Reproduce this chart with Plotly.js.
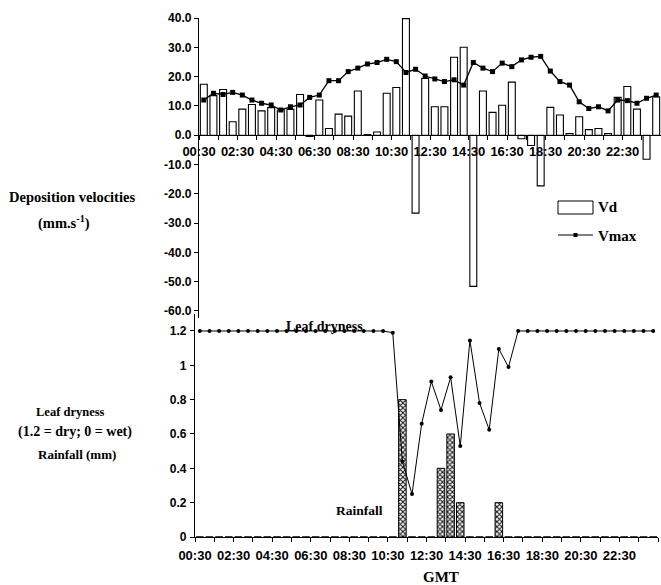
<!DOCTYPE html>
<html>
<head>
<meta charset="utf-8">
<script src="https://cdn.plot.ly/plotly-3.0.1.min.js"></script>
<style>html,body{margin:0;padding:0;background:#fff}#chart{width:661px;height:585px}</style>
</head>
<body>
<div id="chart"></div>
<script>
// ---- data (half-hourly, 48 periods) ----
const times = ["00:30","01:00","01:30","02:00","02:30","03:00","03:30","04:00","04:30","05:00","05:30","06:00",
  "06:30","07:00","07:30","08:00","08:30","09:00","09:30","10:00","10:30","11:00","11:30","12:00",
  "12:30","13:00","13:30","14:00","14:30","15:00","15:30","16:00","16:30","17:00","17:30","18:00",
  "18:30","19:00","19:30","20:00","20:30","21:00","21:30","22:00","22:30","23:00","23:30","24:00"];
const vd = [17.4, 13.5, 15.6, 4.6, 8.9, 10.5, 8.3, 9.4, 8.6, 8.8, 13.9, -0.4,
  12.0, 2.3, 7.2, 6.5, 15.1, 0.2, 1.1, 14.3, 16.3, 39.8, -26.6, 19.4,
  9.7, 9.7, 26.6, 30.0, -51.6, 15.1, 7.8, 10.2, 18.1, -1.2, -3.5, -17.3,
  9.5, 6.9, 0.6, 6.3, 1.9, 2.3, 0.6, 12.9, 16.6, 8.9, -8.2, 13.1];
const vmax = [12.0, 14.3, 13.9, 14.6, 13.7, 12.0, 10.9, 10.3, 8.6, 9.7, 10.3, 12.9,
  13.7, 18.6, 18.6, 21.7, 22.9, 24.3, 24.8, 25.9, 25.1, 21.4, 22.5, 20.2,
  19.2, 18.3, 18.9, 17.1, 24.8, 22.9, 21.7, 24.6, 23.4, 25.7, 26.6, 26.9,
  21.9, 18.3, 17.1, 11.4, 9.1, 9.7, 8.3, 12.0, 11.8, 10.9, 12.6, 13.7];
const leafDryness = [1.2, 1.2, 1.2, 1.2, 1.2, 1.2, 1.2, 1.2, 1.2, 1.2, 1.2, 1.2,
  1.2, 1.2, 1.2, 1.2, 1.2, 1.2, 1.2, 1.2, 1.19, 0.44, 0.25, 0.66,
  0.905, 0.74, 0.93, 0.53, 1.145, 0.78, 0.625, 1.095, 0.99, 1.2, 1.2, 1.2,
  1.2, 1.2, 1.2, 1.2, 1.2, 1.2, 1.2, 1.2, 1.2, 1.2, 1.2, 1.2];
const rainfall = [0, 0, 0, 0, 0, 0, 0, 0, 0, 0, 0, 0,
  0, 0, 0, 0, 0, 0, 0, 0, 0, 0.8, 0, 0,
  0, 0.4, 0.6, 0.2, 0, 0, 0, 0.2, 0, 0, 0, 0,
  0, 0, 0, 0, 0, 0, 0, 0, 0, 0, 0, 0];
const tickLabels = ["00:30","02:30","04:30","06:30","08:30","10:30","12:30","14:30","16:30","18:30","20:30","22:30"];
const vdTicks = [-60, -50, -40, -30, -20, -10, 0, 10, 20, 30, 40];
const leafTicks = [0, 0.2, 0.4, 0.6, 0.8, 1, 1.2];

// ---- helpers ----
const W = 661, H = 585;
const px = x => x / W;
const py = y => 1 - y / H;
const idx = times.map((t, i) => i);
// labelled ticks every 2 hours (4 periods), minor ticks every hour
const labelPos = tickLabels.map((t, k) => 4 * k - 0.5);
const sans = {family: "Liberation Sans, Arial, sans-serif", size: 12, color: "#000", weight: "bold"};
const sansX = Object.assign({}, sans, {size: 13});
const serif = s => ({family: "Liberation Serif, Times New Roman, serif", size: s, color: "#000", weight: "bold"});

const traces = [
  {type: "bar", x: idx, y: vd, xaxis: "x", yaxis: "y", width: 0.72, name: "Vd",
   marker: {color: "#fff", line: {color: "#000", width: 1.1}}, hovertext: times},
  {type: "scatter", mode: "lines+markers", x: idx, y: vmax, xaxis: "x", yaxis: "y", name: "Vmax",
   line: {color: "#000", width: 1.3}, marker: {symbol: "square", size: 5, color: "#000"}},
  {type: "bar", x: idx, y: rainfall, xaxis: "x2", yaxis: "y2", width: 0.78, name: "Rainfall",
   marker: {color: "#fff", line: {color: "#000", width: 1},
            pattern: {shape: "x", size: 3.5, solidity: 0.5, fgcolor: "#111", bgcolor: "#fff"}}},
  {type: "scatter", mode: "lines+markers", x: idx, y: leafDryness, xaxis: "x2", yaxis: "y2", name: "Leaf dryness",
   line: {color: "#000", width: 1}, marker: {symbol: "circle", size: 4, color: "#000"}}
];

const axisCommon = {showline: true, linecolor: "#000", linewidth: 1.2, ticks: "outside", ticklen: 4,
  tickcolor: "#000", tickwidth: 1, showgrid: false, zeroline: false, automargin: false, fixedrange: true};
const minorX = {tickmode: "linear", tick0: -0.5, dtick: 2, ticks: "outside", ticklen: 4, tickcolor: "#000", tickwidth: 1, showgrid: false};

const ann = (text, x, y, size, anchor) => ({text: text, x: px(x), y: py(y), xref: "paper", yref: "paper",
  xanchor: anchor || "center", yanchor: "middle", showarrow: false, font: serif(size)});

const layout = {
  width: W, height: H, margin: {l: 0, r: 0, t: 0, b: 0}, paper_bgcolor: "#fff", plot_bgcolor: "rgba(0,0,0,0)",
  showlegend: false, bargap: 0,
  xaxis: Object.assign({}, axisCommon, {domain: [px(199), 1], range: [-0.5, 47.5], anchor: "free",
    position: py(135), tickmode: "array", tickvals: labelPos, ticktext: tickLabels, tickangle: 0,
    tickfont: sansX, ticklabelstandoff: 0, minor: minorX}),
  yaxis: Object.assign({}, axisCommon, {domain: [py(318), py(18)], range: [-62.4, 40], anchor: "x",
    tickmode: "array", tickvals: vdTicks, ticktext: vdTicks.map(v => v.toFixed(1)), tickfont: sans,
    ticklabelstandoff: 0}),
  xaxis2: Object.assign({}, axisCommon, {domain: [px(195), px(658)], range: [-0.5, 47.5], anchor: "y2",
    tickmode: "array", tickvals: labelPos, ticktext: tickLabels, tickangle: 0, tickfont: sansX,
    ticklabelstandoff: 2, minor: minorX}),
  yaxis2: Object.assign({}, axisCommon, {domain: [py(537), py(313.8)], range: [0, 1.3], anchor: "x2",
    tickmode: "array", tickvals: leafTicks, ticktext: leafTicks.map(v => String(v)), tickfont: sans,
    ticklabelstandoff: 1}),
  shapes: [
    {type: "rect", xref: "paper", yref: "paper", x0: px(558), x1: px(593), y0: py(214), y1: py(201),
     line: {color: "#000", width: 1}, fillcolor: "#fff"},
    {type: "line", xref: "paper", yref: "paper", x0: px(558), x1: px(593), y0: py(235), y1: py(235),
     line: {color: "#000", width: 1.2}},
    {type: "rect", xref: "paper", yref: "paper", x0: px(573.5), x1: px(577.5), y0: py(237), y1: py(233),
     line: {color: "#000", width: 0}, fillcolor: "#000"}
  ],
  annotations: [
    ann("Vd", 596, 207, 15, "left"),
    ann("Vmax", 596, 236, 15, "left"),
    ann("Deposition velocities", 72, 197, 14.5),
    ann("(mm.s<sup>-1</sup>)", 64, 222, 14.5),
    ann("Leaf dryness", 70, 412, 12.5),
    ann("(1.2 = dry; 0 = wet)", 75, 432, 14),
    ann("Rainfall (mm)", 77, 454, 13),
    ann("Leaf dryness", 324, 326, 14),
    ann("Rainfall", 359, 510, 13.5),
    ann("GMT", 441, 577, 15)
  ]
};

Plotly.newPlot("chart", traces, layout, {staticPlot: true, displayModeBar: false});
</script>
</body>
</html>
